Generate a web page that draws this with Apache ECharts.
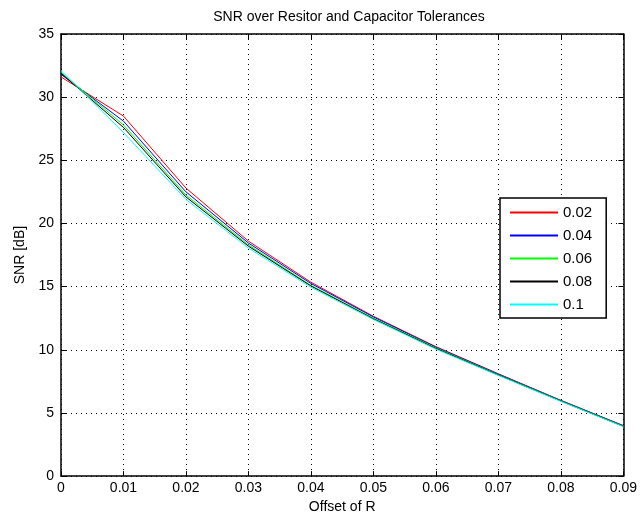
<!DOCTYPE html>
<html>
<head>
<meta charset="utf-8">
<script src="https://cdn.jsdelivr.net/npm/echarts@6/dist/echarts.min.js"></script>
<style>
  html, body { margin: 0; padding: 0; background: #fff; }
  #chart { width: 640px; height: 519px; }
</style>
</head>
<body>
<div id="chart"></div>
<script>
// offset of R (x axis)
const offsets = [0, 0.01, 0.02, 0.03, 0.04, 0.05, 0.06, 0.07, 0.08, 0.09]

// SNR [dB] per capacitor tolerance
const tol002 = [31.6, 28.5, 22.8, 18.6, 15.35, 12.65, 10.25, 8.1, 6.0, 4.0]
const tol004 = [31.8, 28.1, 22.5, 18.45, 15.25, 12.6, 10.2, 8.07, 5.98, 3.98]
const tol006 = [31.95, 27.8, 22.25, 18.3, 15.1, 12.5, 10.15, 8.03, 5.96, 3.96]
const tol008 = [31.9, 27.6, 22.1, 18.2, 15.05, 12.45, 10.1, 8.0, 5.94, 3.94]
const tol010 = [32.1, 27.2, 21.9, 18.05, 14.95, 12.4, 10.05, 7.97, 5.92, 3.92]

const seriesNames = ['0.02', '0.04', '0.06', '0.08', '0.1']
const seriesValues = [tol002, tol004, tol006, tol008, tol010]
const seriesColors = ['#ff0000', '#0000ff', '#00ff00', '#000000', '#00ffff']

const fontFamily = '"Liberation Sans", Arial, sans-serif'

const chart = echarts.init(document.getElementById('chart'), null, { renderer: 'canvas' })

const gridLine = { show: true, lineStyle: { color: '#000', width: 1, type: [1, 4] } }
const frameLine = { show: true, onZero: false, lineStyle: { color: '#000', width: 1.5 } }
const innerTick = { show: true, inside: true, length: 5, lineStyle: { color: '#000', width: 1 } }

const option = {
  animation: false,
  backgroundColor: '#fff',
  textStyle: { fontFamily },
  title: {
    text: 'SNR over Resitor and Capacitor Tolerances',
    left: 344,
    textAlign: 'center',
    top: 5,
    textStyle: { fontFamily, fontSize: 14, fontWeight: 'normal', color: '#000' },
  },
  grid: { left: 61, right: 16, top: 34, bottom: 42 },
  legend: {
    orient: 'vertical',
    left: 500,
    top: 198,
    data: seriesNames,
    icon: 'rect',
    itemWidth: 48,
    itemHeight: 2,
    itemGap: 8,
    padding: [7, 14, 6, 10],
    borderColor: '#000',
    borderWidth: 1.5,
    backgroundColor: '#fff',
    textStyle: { fontFamily, fontSize: 15, color: '#000' },
  },
  xAxis: [
    {
      type: 'value',
      min: 0,
      max: 0.09,
      interval: 0.01,
      name: 'Offset of R',
      nameLocation: 'middle',
      nameGap: 21,
      nameTextStyle: { fontFamily, fontSize: 14, color: '#000' },
      axisLine: frameLine,
      axisTick: innerTick,
      axisLabel: { color: '#000', fontSize: 14, margin: 5, formatter: (v) => String(Number(v.toFixed(2))) },
      splitLine: gridLine,
    },
    {
      type: 'value',
      position: 'top',
      min: 0,
      max: 0.09,
      interval: 0.01,
      axisLine: frameLine,
      axisTick: innerTick,
      axisLabel: { show: false },
      splitLine: { show: false },
    },
  ],
  yAxis: [
    {
      type: 'value',
      min: 0,
      max: 35,
      interval: 5,
      name: 'SNR [dB]',
      nameLocation: 'middle',
      nameGap: 28,
      nameTextStyle: { fontFamily, fontSize: 14, color: '#000' },
      axisLine: frameLine,
      axisTick: innerTick,
      axisLabel: { color: '#000', fontSize: 14, margin: 7 },
      splitLine: gridLine,
    },
    {
      type: 'value',
      position: 'right',
      min: 0,
      max: 35,
      interval: 5,
      axisLine: frameLine,
      axisTick: innerTick,
      axisLabel: { show: false },
      splitLine: { show: false },
    },
  ],
  series: seriesNames.map((name, i) => ({
    name,
    type: 'line',
    data: offsets.map((x, j) => [x, seriesValues[i][j]]),
    symbol: 'none',
    lineStyle: { color: seriesColors[i], width: 1 },
    itemStyle: { color: seriesColors[i] },
  })),
}

chart.setOption(option)
</script>
</body>
</html>
